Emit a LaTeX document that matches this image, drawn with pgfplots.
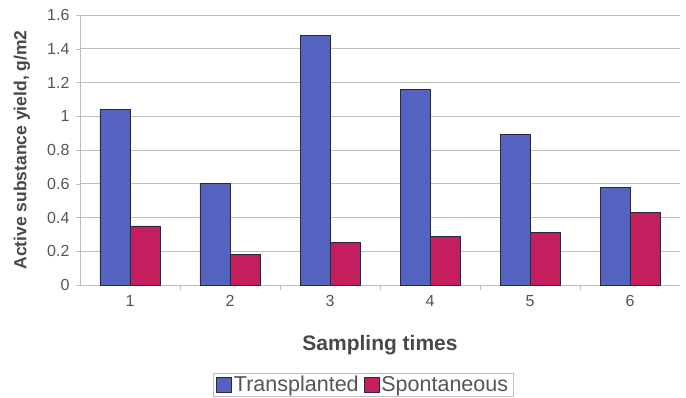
\documentclass[border=0pt]{standalone}
\usepackage{pgfplots}
\pgfplotsset{compat=1.18}
\usepackage{fontspec}
\setmainfont{Liberation Sans}
\definecolor{transBlue}{RGB}{84,98,192}
\definecolor{spontRed}{RGB}{196,30,94}
\definecolor{barEdge}{RGB}{40,40,70}
\definecolor{gridGray}{RGB}{190,190,190}
\definecolor{txtGray}{RGB}{85,85,85}

\pgfplotstableread{
x trans spont
1 1.04 0.35
2 0.60 0.18
3 1.48 0.25
4 1.16 0.29
5 0.89 0.31
6 0.58 0.43
}\yielddata

\begin{document}
\begin{tikzpicture}
\path[use as bounding box] (-80pt,-113pt) rectangle (606pt,285pt);
\begin{axis}[
  at={(0,0)}, anchor=south west,
  scale only axis,
  width=600pt, height=270pt,
  ybar=0pt, bar width=30pt,
  xmin=0.5, xmax=6.5,
  ymin=0, ymax=1.6,
  ytick={0,0.2,...,1.6},
  xtick={1,...,6},
  minor xtick={1.5,2.5,...,5.5},
  major x tick style={draw=none},
  minor tick length=5pt,
  y tick style={gridGray},
  x tick style={gridGray},
  major tick length=4pt,
  tick align=outside,
  axis lines*=left,
  axis line style={gridGray},
  ymajorgrids,
  grid style={gridGray, line width=0.6pt},
  tick label style={font=\fontsize{16}{18}\selectfont, text=txtGray},
  /pgf/number format/assume math mode=true,
  yticklabel style={/pgf/number format/fixed, /pgf/number format/precision=1, xshift=-3pt},
  xticklabel style={yshift=-3pt},
  xlabel={Sampling times},
  xlabel style={font=\bfseries\fontsize{21}{24}\selectfont, text=txtGray!85!black, at={(axis description cs:0.5,-0.222)}, anchor=center},
  ylabel={Active substance yield, g/m2},
  ylabel style={font=\bfseries\fontsize{17.5}{20}\selectfont, text=txtGray!85!black, at={(axis description cs:-0.097,0.5)}, anchor=center},
  legend style={
    at={(axis description cs:0.472,-0.37)}, anchor=center,
    draw=gridGray, legend columns=2,
    font=\fontsize{21.5}{24}\selectfont, text=txtGray,
    inner xsep=3pt, inner ysep=1pt,
    /tikz/every even column/.append style={column sep=3pt},
  },
  legend image code/.code={\draw[#1, draw=barEdge] (0pt,-7.5pt) rectangle (15pt,7.5pt);},
  legend cell align=left,
  clip=false,
]
\addplot[fill=transBlue, draw=barEdge, line width=0.7pt] table[x=x, y=trans] {\yielddata};
\addplot[fill=spontRed, draw=barEdge, line width=0.7pt] table[x=x, y=spont] {\yielddata};
\legend{Transplanted, Spontaneous}
\end{axis}
\end{tikzpicture}
\end{document}
